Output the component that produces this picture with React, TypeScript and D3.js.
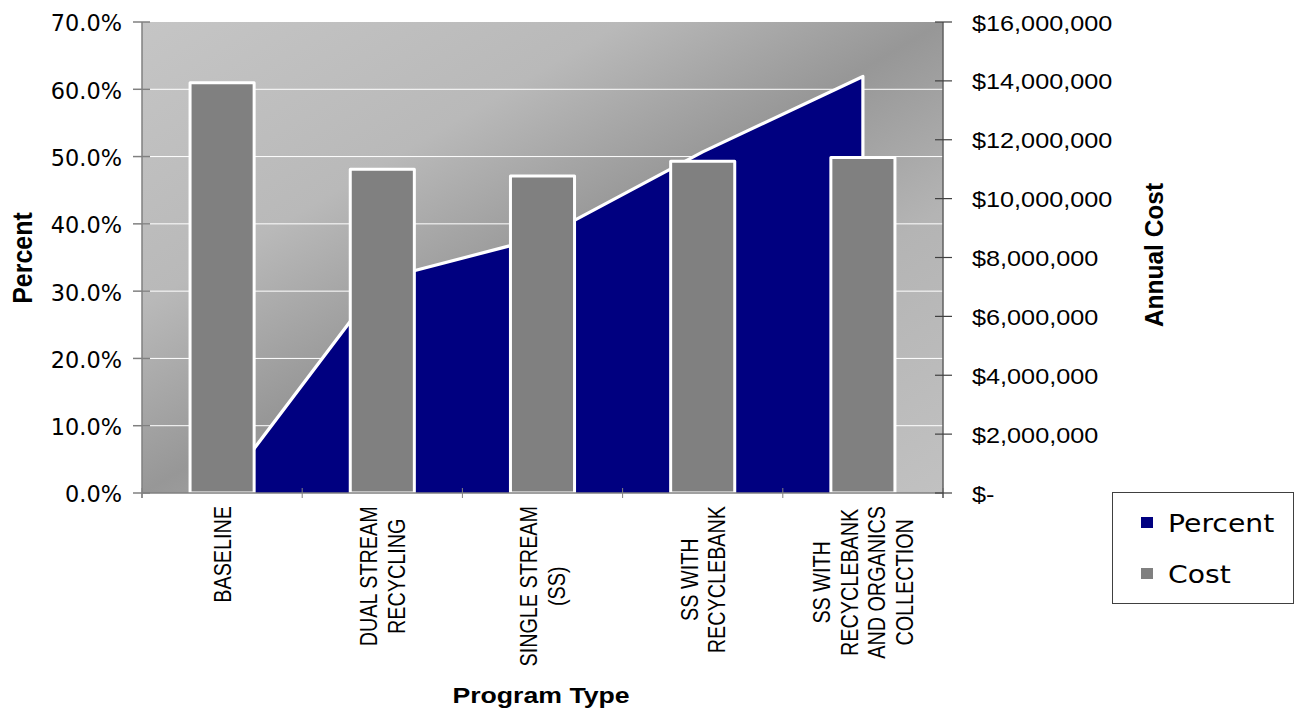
import React from "react";
import * as d3 from "d3";

const categories: string[][] = [
  ["BASELINE"],
  ["DUAL STREAM", "RECYCLING"],
  ["SINGLE STREAM", "(SS)"],
  ["SS WITH", "RECYCLEBANK"],
  ["SS WITH", "RECYCLEBANK", "AND ORGANICS", "COLLECTION"],
];
const percentValues = [0.3, 31.8, 38.0, 50.7, 61.9];
const costValues = [13940000, 11000000, 10770000, 11270000, 11400000];
const percentTicks = [0, 10, 20, 30, 40, 50, 60, 70];
const costTicks = [0, 2000000, 4000000, 6000000, 8000000, 10000000, 12000000, 14000000, 16000000];
const legendItems = ["Percent", "Cost"];

const W = 1294;
const H = 710;
const PL = 142, PR = 943, PT = 22, PB = 493;
const NAVY = "#000080";
const BAR = "#808080";

let measureCtx: CanvasRenderingContext2D | null = null;
function textLen(s: string, font: string): number {
  if (!measureCtx) {
    const c = document.createElement("canvas");
    measureCtx = c.getContext("2d");
  }
  if (!measureCtx) return s.length * 11;
  measureCtx.font = font;
  return measureCtx.measureText(s).width;
}

function fmtCost(v: number): string {
  if (v === 0) return "$-";
  return "$" + d3.format(",")(v);
}

export default function App() {
  const keys = categories.map((c) => c.join(" "));
  const x = d3.scaleBand<string>().domain(keys).range([PL, PR]).paddingInner(0).paddingOuter(0);
  const yL = d3.scaleLinear().domain([0, 70]).range([PB, PT]);
  const yR = d3.scaleLinear().domain([0, 16000000]).range([PB, PT]);
  const bw = x.bandwidth() / 2.5;
  const cx = (i: number) => (x(keys[i]) as number) + x.bandwidth() / 2;

  const areaGen = d3
    .area<number>()
    .x((_, i) => cx(i))
    .y0(yL(0))
    .y1((d) => yL(d));
  const lineGen = d3
    .line<number>()
    .x((_, i) => cx(i))
    .y((d) => yL(d));
  const n = percentValues.length;
  const outline =
    `M${cx(0)},${yL(0)}L` +
    (lineGen(percentValues) as string).slice(1) +
    `L${cx(n - 1)},${yL(0)}`;

  const catFont = `19.8px "Liberation Sans"`;
  const catTop = 506;
  const lineGap = 27.4;

  return (
    <svg
      width={W}
      height={H}
      style={{ position: "absolute", left: 0, top: 0, background: "#ffffff" }}
      fontFamily='"Liberation Sans", Arial, sans-serif'
    >
      <defs>
        <linearGradient id="plotbg" x1="0" y1="0" x2="1" y2="1">
          <stop offset="0" stopColor="#c5c5c5" />
          <stop offset="0.3" stopColor="#b9b9b9" />
          <stop offset="0.5" stopColor="#979797" />
          <stop offset="0.7" stopColor="#b4b4b4" />
          <stop offset="1" stopColor="#c1c1c1" />
        </linearGradient>
      </defs>

      <rect x={PL} y={PT} width={PR - PL} height={PB - PT} fill="url(#plotbg)" />

      {percentTicks
        .filter((t) => t > 0 && t < 70)
        .map((t) => (
          <line key={"g" + t} x1={PL} x2={PR} y1={yL(t)} y2={yL(t)} stroke="#ffffff" strokeWidth={1} />
        ))}

      <path d={areaGen(percentValues) as string} fill={NAVY} />
      <path d={outline} fill="none" stroke="#ffffff" strokeWidth={3.2} strokeLinejoin="round" />

      {costValues.map((v, i) => (
        <rect
          key={"b" + i}
          x={cx(i) - bw / 2}
          y={yR(v)}
          width={bw}
          height={yR(0) - yR(v)}
          fill={BAR}
          stroke="#ffffff"
          strokeWidth={3}
          strokeLinejoin="round"
        />
      ))}

      {/* axes */}
      <line x1={PL} x2={PR} y1={PB} y2={PB} stroke="#808080" strokeWidth={1.5} />
      {keys.map((k) => (
        <line key={"xt" + k} x1={x(k)} x2={x(k)} y1={PB - 5} y2={PB + 5} stroke="#808080" strokeWidth={1} />
      ))}
      <line x1={PR} x2={PR} y1={PB - 5} y2={PB + 5} stroke="#808080" strokeWidth={1} />

      <line x1={PL} x2={PL} y1={PT} y2={PB + 5} stroke="#808080" strokeWidth={1.5} />
      {percentTicks.map((t) => (
        <line key={"lt" + t} x1={PL - 9} x2={PL + 8} y1={yL(t)} y2={yL(t)} stroke="#808080" strokeWidth={1.5} />
      ))}
      {percentTicks.map((t) => (
        <text
          key={"ll" + t}
          x={122}
          y={yL(t)}
          dy="0.42em"
          textAnchor="end"
          fontFamily='"DejaVu Sans", Verdana, sans-serif'
          fontSize={22.4}
          fill="#000"
        >
          {t.toFixed(1) + "%"}
        </text>
      ))}

      <line x1={PR} x2={PR} y1={PT} y2={PB + 5} stroke="#606060" strokeWidth={1.5} />
      {costTicks.map((t) => (
        <line key={"rt" + t} x1={PR - 8} x2={PR + 9} y1={yR(t)} y2={yR(t)} stroke="#404040" strokeWidth={1.2} />
      ))}
      {costTicks.map((t) => (
        <text
          key={"rl" + t}
          transform={`translate(972,${yR(t)}) scale(1.18,1)`}
          dy="0.4em"
          textAnchor="start"
          fontSize={21.4}
          fill="#000"
        >
          {fmtCost(t)}
        </text>
      ))}

      {/* category labels */}
      {categories.map((lines, i) => {
        const maxLen = d3.max(lines, (l) => textLen(l, catFont)) as number;
        const cy = catTop + maxLen / 2;
        const m = lines.length;
        return lines.map((l, j) => {
          const lx = cx(i) + (j - (m - 1) / 2) * lineGap;
          return (
            <text
              key={"c" + i + "-" + j}
              transform={`translate(${lx},${cy}) rotate(-90) scale(1,1.2)`}
              dy="0.36em"
              textAnchor="middle"
              fontSize={19.8}
              fill="#000"
            >
              {l}
            </text>
          );
        });
      })}

      {/* axis titles */}
      <text
        transform={`translate(541,703) scale(1.19,1)`}
        textAnchor="middle"
        fontSize={22.4}
        fontWeight="bold"
        fill="#000"
      >
        Program Type
      </text>
      <text
        transform={`translate(31.5,258) rotate(-90) scale(1,1.1)`}
        textAnchor="middle"
        fontSize={25}
        fontWeight="bold"
        fill="#000"
      >
        Percent
      </text>
      <text
        transform={`translate(1163,255) rotate(-90) scale(1,1.04)`}
        textAnchor="middle"
        fontSize={24.5}
        fontWeight="bold"
        fill="#000"
      >
        Annual Cost
      </text>

      {/* legend */}
      <rect x={1112.5} y={492.5} width={181} height={111} fill="#ffffff" stroke="#404040" strokeWidth={1} />
      {legendItems.map((name, i) => (
        <g key={"lg" + name}>
          <rect x={1141} y={517 + i * 51} width={12} height={11} fill={i === 0 ? NAVY : BAR} />
          <text
            transform={`translate(1168,${532 + i * 51}) scale(1.13,1)`}
            fontFamily='"DejaVu Sans", Verdana, sans-serif'
            fontSize={25}
            fill="#000"
          >
            {name}
          </text>
        </g>
      ))}
    </svg>
  );
}
